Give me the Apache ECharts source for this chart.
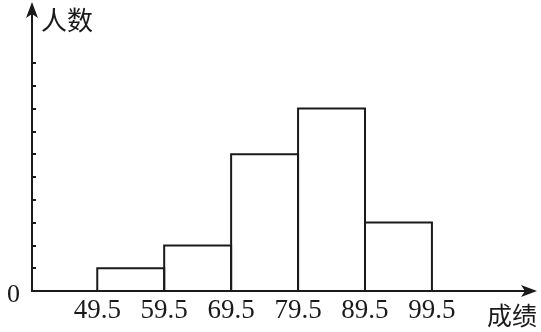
<!DOCTYPE html>
<html><head><meta charset="utf-8">
<script src="https://cdn.jsdelivr.net/npm/echarts@6/dist/echarts.min.js"></script>
<style>html,body{margin:0;padding:0;background:#fff}#c{width:541px;height:332px}</style>
</head><body><div id="c"></div>
<script>
var binEdges = [49.5, 59.5, 69.5, 79.5, 89.5, 99.5];
var counts = [1, 2, 6, 8, 3];
var xTickLabels = ['49.5', '59.5', '69.5', '79.5', '89.5', '99.5'];
var yTickValues = [1, 2, 3, 4, 5, 6, 7, 8, 9, 10];
var yAxisTitle = '人数';
var xAxisTitle = '成绩';

var bins = counts.map(function (c, i) { return [binEdges[i], binEdges[i + 1], c]; });
var chart = echarts.init(document.getElementById('c'));
var ink = '#1a1a1a';
chart.setOption({
  backgroundColor: '#fff',
  animation: false,
  grid: { left: 32, right: 8, top: 6, bottom: 41, containLabel: false },
  xAxis: {
    type: 'value', min: 39.75, max: 114.6,
    splitLine: { show: false },
    axisLine: { lineStyle: { color: ink, width: 2 }, symbol: ['none', 'arrow'], symbolSize: [9, 16], symbolOffset: [0, 4] },
    axisTick: { show: false },
    axisLabel: {
      customValues: binEdges,
      formatter: function (v) { var i = binEdges.indexOf(v); return i >= 0 ? xTickLabels[i] : ''; },
      color: ink, fontFamily: '"Liberation Serif", "DejaVu Serif", serif', fontSize: 27, margin: 6
    }
  },
  yAxis: {
    type: 'value', min: 0, max: 12.5,
    splitLine: { show: false },
    axisLine: { lineStyle: { color: ink, width: 2 }, symbol: ['none', 'arrow'], symbolSize: [9, 16], symbolOffset: [0, 4] },
    axisTick: { customValues: yTickValues, inside: true, length: 4, lineStyle: { color: ink, width: 2 } },
    axisLabel: {
      customValues: [0], formatter: function () { return '0'; },
      color: ink, fontFamily: '"Liberation Serif", "DejaVu Serif", serif', fontSize: 26, margin: 12, verticalAlign: 'top', padding: [-9, 0, 0, 0]
    }
  },
  series: [{
    type: 'custom',
    data: bins,
    renderItem: function (params, api) {
      var p0 = api.coord([api.value(0), 0]);
      var p1 = api.coord([api.value(1), api.value(2)]);
      return {
        type: 'rect',
        shape: { x: p0[0], y: p1[1], width: p1[0] - p0[0], height: p0[1] - p1[1] },
        style: { fill: 'none', stroke: ink, lineWidth: 2 }
      };
    },
    encode: { x: [0, 1], y: 2 }
  }],
  graphic: [
    { type: 'text', left: 41, top: 7, style: { text: yAxisTitle, font: '26px "Noto Sans CJK SC"', fill: ink } },
    { type: 'text', left: 487, top: 303, style: { text: xAxisTitle, font: '25px "Noto Sans CJK SC"', fill: ink } }
  ]
});
</script></body></html>
